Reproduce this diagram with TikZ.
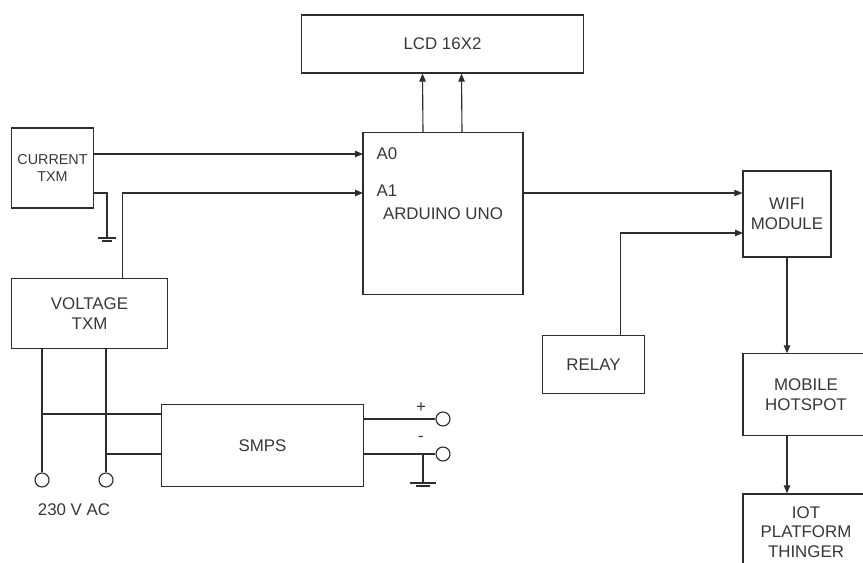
\documentclass[tikz,border=0pt]{standalone}
\usepackage{fontspec}
\setmainfont{Liberation Sans}
\usetikzlibrary{arrows.meta,calc}
\definecolor{wire}{RGB}{45,45,45}
\definecolor{ink}{RGB}{55,55,55}
\tikzset{
  >={Triangle[length=2mm,width=1.6mm]},
  blk/.style 2 args={draw=wire,line width=0.8pt,inner sep=0pt,minimum width=#1cm,
    minimum height=#2cm,align=center,text=ink,font=\fontsize{12}{14}\selectfont},
  pin/.style={inner sep=0pt,text=ink,font=\fontsize{12}{14}\selectfont},
  term/.style={circle,draw=wire,line width=0.8pt,fill=white,minimum size=0.35cm,inner sep=0pt},
  % earth symbol
  pics/gnd/.style={code={
    \draw[wire,line width=0.8pt] (-#1,0) -- (#1,0);
    \draw[wire,line width=0.8pt] (-#1*0.55,3) -- (#1*0.55,3);
  }},
  pics/gnd/.default=9,
}

\begin{document}
\begin{tikzpicture}[x=0.025cm,y=-0.025cm,line width=0.8pt,draw=wire]
  \clip (0,0) rectangle (863,563);
  % blocks
  \node[blk={7.03}{1.45}] (lcd) at (442.5,44) {LCD 16X2};
  \node[blk={4.0}{4.03}] (uno) at (443,213.5) {ARDUINO UNO};
  \node[blk={2.03}{2.0},font=\fontsize{10.2}{12}\selectfont] (cur) at (52.5,168) {CURRENT\\TXM};
  \node[blk={3.88}{1.73}] (volt) at (89.5,313.5) {VOLTAGE\\TXM};
  \node[blk={5.03}{2.03}] (smps) at (262.5,445.5) {SMPS};
  \node[blk={2.2}{2.15}] (wifi) at (787,214) {WIFI\\MODULE};
  \node[blk={2.53}{1.43}] (relay) at (593.5,364.5) {RELAY};
  \node[blk={3.15}{2.03}] (hot) at (806,394.5) {MOBILE\\HOTSPOT};
  \node[blk={3.15}{1.9}] (iot) at (806,532) {IOT\\PLATFORM\\THINGER};
  % pin labels
  \node[pin,anchor=west] (a0) at (376,154) {A0};
  \node[pin,anchor=west] (a1) at (376,191) {A1};
  \node[pin] (plus) at (421,408) {+};
  \node[pin] (minus) at (421,439) {-};
  \node[pin] (ac) at (74,510) {230 V AC};
  % terminals
  \node[term] (t1) at (42,480) {};
  \node[term] (t2) at (106,480) {};
  \node[term] (tp) at (443,419) {};
  \node[term] (tn) at (443,454) {};
  \coordinate (pa0) at (363,154);
  \coordinate (pa1) at (363,193);
  \coordinate (pr) at (743,233);
  \coordinate (j1) at (42,414);
  \coordinate (j2) at (106,454);
  \coordinate (g1) at (107,238);
  \coordinate (g2) at (423,483);
  % signals
  \draw[->] (cur.east |- pa0) -- (pa0);
  \draw[->] ($(volt.north west)+(111,0)$) |- (pa1);
  \draw (cur.east |- pa1) -| (g1);
  \pic at (g1) {gnd=9};
  \foreach \dx in {-20,19}
    \draw[->] ($(uno.north)+(\dx,0)$) -- ($(lcd.south)+(\dx,0)$);
  \draw[->] (uno.east |- pa1) -- (wifi.west |- pa1);
  \draw[->] ($(relay.north west)+(78,0)$) |- (pr);
  \draw[->] (wifi.south) -- (wifi.south |- hot.north);
  \draw[->] (wifi.south |- hot.south) -- (wifi.south |- iot.north);
  % supply
  \draw (volt.south -| t1) -- (t1);
  \draw (volt.south -| t2) -- (t2);
  \draw (j1) -- (smps.west |- j1);
  \draw (j2) -- (smps.west |- j2);
  \draw (smps.east |- tp) -- (tp);
  \draw (smps.east |- tn) -- (tn);
  \draw (g2 |- tn) -- (g2);
  \pic at (g2) {gnd=13};
\end{tikzpicture}
\end{document}
